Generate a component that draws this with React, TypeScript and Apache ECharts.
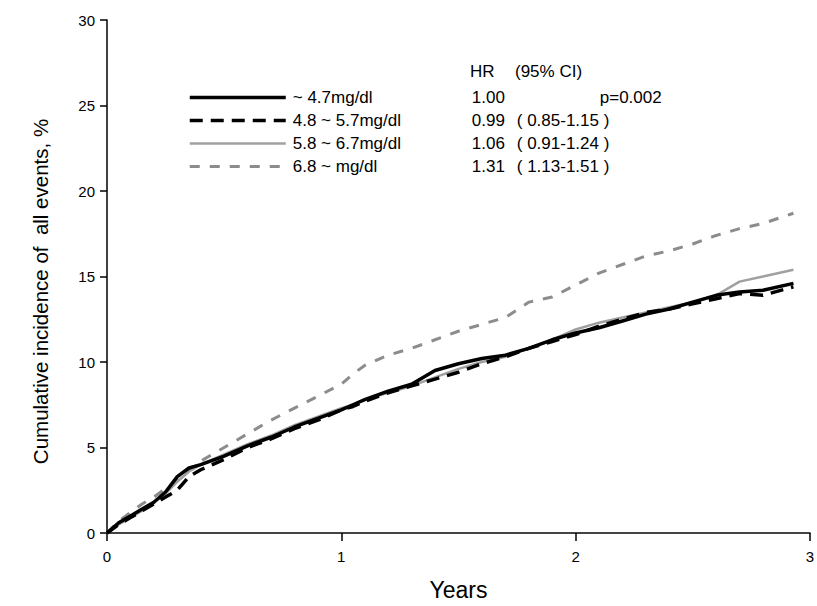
import React, { useEffect, useRef } from "react";
import * as echarts from "echarts";

const years = [0, 0.05, 0.1, 0.15, 0.2, 0.25, 0.3, 0.35, 0.4, 0.5, 0.6, 0.7, 0.8, 0.9, 1.0, 1.05, 1.1, 1.2, 1.3, 1.4, 1.5, 1.6, 1.7, 1.8, 1.9, 2.0, 2.1, 2.2, 2.3, 2.4, 2.5, 2.6, 2.7, 2.8, 2.93];

const g1 = [0, 0.6, 1.0, 1.4, 1.8, 2.4, 3.3, 3.8, 4.0, 4.5, 5.1, 5.6, 6.2, 6.7, 7.2, 7.5, 7.8, 8.3, 8.7, 9.5, 9.9, 10.2, 10.4, 10.8, 11.3, 11.7, 12.0, 12.4, 12.8, 13.1, 13.5, 13.9, 14.1, 14.2, 14.6];
const g2 = [0, 0.5, 0.9, 1.3, 1.7, 2.1, 2.5, 3.3, 3.7, 4.3, 5.0, 5.5, 6.1, 6.6, 7.2, 7.4, 7.7, 8.2, 8.6, 9.0, 9.4, 9.9, 10.3, 10.8, 11.2, 11.6, 12.1, 12.5, 12.9, 13.1, 13.4, 13.7, 14.0, 13.9, 14.4];
const g3 = [0, 0.5, 0.9, 1.3, 1.8, 2.3, 3.0, 3.6, 4.0, 4.6, 5.2, 5.7, 6.3, 6.8, 7.3, 7.5, 7.8, 8.2, 8.6, 9.1, 9.6, 10.0, 10.3, 10.8, 11.3, 11.9, 12.3, 12.6, 12.9, 13.2, 13.5, 13.9, 14.7, 15.0, 15.4];
const g4 = [0, 0.7, 1.2, 1.7, 2.1, 2.6, 3.1, 3.7, 4.2, 5.0, 5.8, 6.6, 7.3, 8.0, 8.7, 9.3, 9.8, 10.4, 10.8, 11.3, 11.8, 12.2, 12.6, 13.5, 13.8, 14.5, 15.2, 15.7, 16.2, 16.5, 16.9, 17.4, 17.8, 18.1, 18.7];

const groupNames = ["~ 4.7mg/dl", "4.8 ~ 5.7mg/dl", "5.8 ~ 6.7mg/dl", "6.8 ~ mg/dl"];
const hrValues = ["1.00", "0.99", "1.06", "1.31"];
const ciValues = ["", "( 0.85-1.15 )", "( 0.91-1.24 )", "( 1.13-1.51 )"];
const pValue = "p=0.002";
const xTicks = [0, 1, 2, 3];
const yTicks = [0, 5, 10, 15, 20, 25, 30];

const FONT = "Liberation Sans, Arial, Helvetica, sans-serif";

export default function App() {
  const ref = useRef<HTMLDivElement>(null);
  useEffect(() => {
    if (!ref.current) return;
    const chart = echarts.init(ref.current, undefined, { renderer: "svg" });
    const seriesData = [g1, g2, g3, g4];
    const styles = [
      { color: "#000000", width: 3.5, type: "solid" as any },
      { color: "#000000", width: 3.5, type: [13, 8] as any },
      { color: "#a0a0a0", width: 2.5, type: "solid" as any },
      { color: "#8c8c8c", width: 3, type: [10, 10] as any },
    ];
    const series = seriesData.map((vals, i) => ({
      name: groupNames[i],
      type: "line",
      data: years.map((t, k) => [t, vals[k]]),
      showSymbol: false,
      symbol: "none",
      lineStyle: { ...styles[i] },
      itemStyle: { color: styles[i].color },
      z: 10 - i,
    }));
    const rich = {
      a: { fontFamily: FONT, fontSize: 17, color: "#000", width: 179, lineHeight: 20, padding: [0, 0, 0, 2] },
      b: { fontFamily: FONT, fontSize: 17, color: "#000", width: 45, lineHeight: 20 },
      c: { fontFamily: FONT, fontSize: 17, color: "#000", width: 83, lineHeight: 20 },
      d: { fontFamily: FONT, fontSize: 17, color: "#000", lineHeight: 20 },
    };
    chart.setOption({
      animation: false,
      backgroundColor: "#ffffff",
      grid: { left: 107, top: 20, width: 708, height: 522 },
      xAxis: {
        type: "value",
        min: xTicks[0],
        max: xTicks[xTicks.length - 1],
        interval: 1,
        name: "Years",
        nameLocation: "middle",
        nameGap: 45,
        nameTextStyle: { fontFamily: FONT, fontSize: 23, color: "#000" },
        axisLine: { show: true, onZero: false, lineStyle: { color: "#444", width: 2 } },
        axisTick: { show: true, length: 8, lineStyle: { color: "#000", width: 1.5 } },
        axisLabel: { fontFamily: FONT, fontSize: 15, color: "#000", margin: 16 },
        splitLine: { show: false },
      },
      yAxis: {
        type: "value",
        min: yTicks[0],
        max: yTicks[yTicks.length - 1],
        interval: 5,
        name: "Cumulative incidence of  all events, %",
        nameLocation: "middle",
        nameGap: 56,
        nameTextStyle: { fontFamily: FONT, fontSize: 20.5, color: "#000", padding: [0, 30, 0, 0] },
        axisLine: { show: true, onZero: false, lineStyle: { color: "#000", width: 1.5 } },
        axisTick: { show: true, length: 7, lineStyle: { color: "#000", width: 1.5 } },
        axisLabel: { fontFamily: FONT, fontSize: 15, color: "#000", margin: 12 },
        splitLine: { show: false },
      },
      legend: {
        show: true,
        orient: "vertical",
        left: 183,
        top: 84,
        itemWidth: 96,
        itemHeight: 14,
        itemGap: 6,
        selectedMode: false,
        itemStyle: { opacity: 0 },
        data: groupNames.map((n, i) => ({
          name: n,
          itemStyle: { opacity: 0 },
          lineStyle: { color: styles[i].color, width: styles[i].width, type: styles[i].type, opacity: 1 },
        })),
        textStyle: { fontFamily: FONT, fontSize: 17, color: "#000", rich },
        formatter: (name: string) => {
          const i = groupNames.indexOf(name);
          let s = `{a|${name}}{b|${hrValues[i]}}{c|${ciValues[i] || " "}}`;
          if (i === 0) s += `{d|${pValue}}`;
          return s;
        },
      },
      graphic: [
        {
          type: "text",
          left: 470,
          top: 63,
          style: {
            text: "{b|HR}{c|(95% CI)}",
            rich,
          },
        },
      ],
      series,
    });
    return () => chart.dispose();
  }, []);
  return (
    <div
      ref={ref}
      style={{ position: "fixed", left: 0, top: 0, width: 817, height: 606, background: "#fff" }}
    />
  );
}
